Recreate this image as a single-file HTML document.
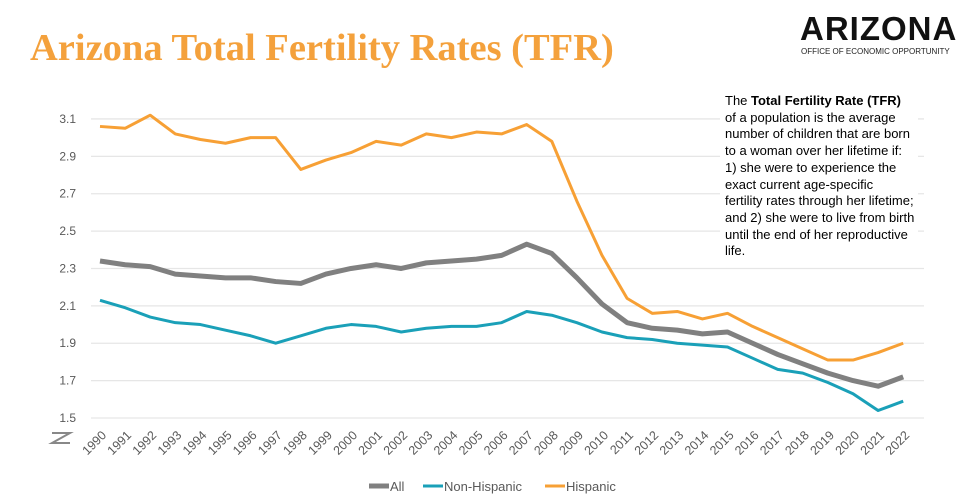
<!DOCTYPE html>
<html><head><meta charset="utf-8"><style>
body{margin:0;width:966px;height:500px;background:#fff;overflow:hidden;position:relative;font-family:"Liberation Sans",sans-serif}
.t{position:absolute;left:30px;top:26px;font-family:"Liberation Serif",serif;font-weight:bold;font-size:38.5px;color:#f4a13c;white-space:nowrap}
.logo{position:absolute;left:800px;top:10px;font-weight:bold;font-size:33px;letter-spacing:1px;color:#111}
.sub{position:absolute;left:801px;top:47px;font-size:8px;color:#222}
.desc{position:absolute;left:720px;top:93px;padding-left:5px;padding-right:4px;background:#fff;font-size:13px;line-height:16.7px;color:#000;white-space:nowrap;z-index:2}
</style></head><body>
<div class="t">Arizona Total Fertility Rates (TFR)</div>
<div class="logo">ARIZONA</div>
<div class="sub">OFFICE OF ECONOMIC OPPORTUNITY</div>
<svg id="s" width="966" height="500" style="position:absolute;left:0;top:0"></svg>
<div class="desc">The <b>Total Fertility Rate (TFR)</b><br>of a population is the average<br>number of children that are born<br>to a woman over her lifetime if:<br>1) she were to experience the<br>exact current age-specific<br>fertility rates through her lifetime;<br>and 2) she were to live from birth<br>until the end of her reproductive<br>life.</div>
<script>
var H=[3.06,3.05,3.12,3.02,2.99,2.97,3.00,3.00,2.83,2.88,2.92,2.98,2.96,3.02,3.00,3.03,3.02,3.07,2.98,2.66,2.37,2.14,2.06,2.07,2.03,2.06,1.99,1.93,1.87,1.81,1.81,1.85,1.90];
var A=[2.34,2.32,2.31,2.27,2.26,2.25,2.25,2.23,2.22,2.27,2.30,2.32,2.30,2.33,2.34,2.35,2.37,2.43,2.38,2.25,2.11,2.01,1.98,1.97,1.95,1.96,1.90,1.84,1.79,1.74,1.70,1.67,1.72];
var N=[2.13,2.09,2.04,2.01,2.00,1.97,1.94,1.90,1.94,1.98,2.00,1.99,1.96,1.98,1.99,1.99,2.01,2.07,2.05,2.01,1.96,1.93,1.92,1.90,1.89,1.88,1.82,1.76,1.74,1.69,1.63,1.54,1.59];
function X(i){return 100+i*25.1}function Y(v){return 418-(v-1.5)*186.9}
var s='';
for(var v=1.5;v<3.15;v+=0.2){var y=Y(v);s+='<line x1="91" x2="924" y1="'+y+'" y2="'+y+'" stroke="#e6e6e6" stroke-width="1.3"/><text x="76" y="'+(y+4)+'" text-anchor="end" font-size="12" fill="#595959">'+v.toFixed(1)+'</text>';}
for(var i=0;i<33;i++){s+='<text transform="translate('+(X(i)+7)+',436) rotate(-45)" text-anchor="end" font-size="12.5" fill="#595959">'+(1990+i)+'</text>';}
s+='<path d="M52 433 L70 433 L52 443 L70 443" fill="none" stroke="#888" stroke-width="2"/>';
function P(d,c,w){return '<polyline fill="none" stroke="'+c+'" stroke-width="'+w+'" stroke-linejoin="round" points="'+d.map(function(v,i){return X(i)+','+Y(v)}).join(' ')+'"/>'}
s+=P(N,'#1aa0b8',3)+P(A,'#808080',5)+P(H,'#f7a035',3);
s+='<line x1="369" x2="389" y1="486" y2="486" stroke="#808080" stroke-width="5"/><text x="390" y="491" font-size="13" fill="#595959">All</text>';
s+='<line x1="423" x2="443" y1="486" y2="486" stroke="#1aa0b8" stroke-width="3"/><text x="444" y="491" font-size="13" fill="#595959">Non-Hispanic</text>';
s+='<line x1="545" x2="565" y1="486" y2="486" stroke="#f7a035" stroke-width="3"/><text x="566" y="491" font-size="13" fill="#595959">Hispanic</text>';
document.getElementById('s').innerHTML=s;
</script>
</body></html>
